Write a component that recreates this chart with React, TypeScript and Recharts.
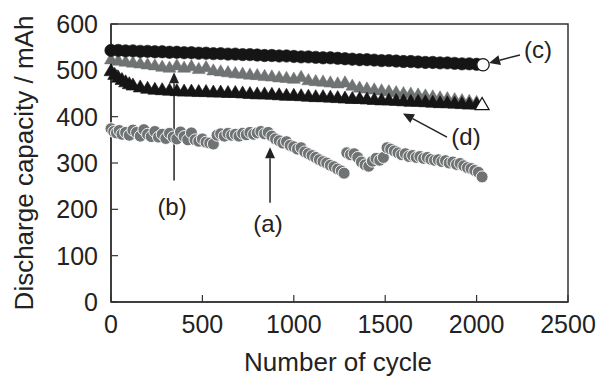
import {
  ScatterChart,
  Scatter,
  XAxis,
  YAxis,
  ReferenceArea,
  ReferenceLine,
  ReferenceDot,
} from "recharts"

const FONT = "'Liberation Sans', Arial, Helvetica, sans-serif"
const INK = "#222"
const GRAY = "#6f7373"
const BLACK = "#151515"

const xTicks = [0, 500, 1000, 1500, 2000, 2500]
const yTicks = [0, 100, 200, 300, 400, 500, 600]

// (a) grey open circles
const cyclesA = [
  0, 15, 30, 45, 60, 80, 100, 120, 140, 160, 180, 200, 220, 240, 260, 280, 300, 320, 340, 360,
  380, 400, 420, 440, 460, 480, 500, 520, 540, 560, 580, 600, 620, 640, 660, 680, 700, 720, 740, 760,
  780, 800, 820, 840, 860, 880, 900, 920, 940, 960, 980, 1000, 1020, 1040, 1060, 1080, 1100, 1120, 1140, 1160,
  1180, 1200, 1220, 1240, 1260, 1275, 1290, 1310, 1330, 1350, 1370, 1390, 1410, 1430, 1450, 1470, 1490, 1510, 1530, 1550,
  1570, 1590, 1610, 1630, 1650, 1670, 1690, 1710, 1730, 1750, 1770, 1790, 1810, 1830, 1850, 1870, 1890, 1910, 1930, 1950,
  1970, 1990, 2010, 2030,
]
const capacityA = [
  374, 368, 365, 370, 362, 366, 360, 371, 366, 358, 372, 362, 357, 368, 356, 362, 353, 364, 356, 352,
  367, 357, 350, 365, 350, 347, 352, 345, 343, 341, 360, 363, 358, 364, 360, 362, 358, 364, 361, 366,
  362, 365, 368, 363, 366, 358, 352, 348, 343, 346, 338, 335, 330, 333, 324, 320, 316, 312, 307, 303,
  300, 295, 292, 287, 283, 278, 322, 318, 320, 312, 302, 296, 293, 304, 310, 306, 312, 333, 330, 326,
  322, 318, 320, 314, 316, 312, 314, 310, 312, 308, 306, 307, 303, 305, 300, 302, 297, 299, 294, 290,
  288, 284, 280, 270,
]

// shared cycle grid for (b) and (c)
const cycles = [
  0, 40, 80, 120, 160, 200, 240, 280, 320, 360, 400, 440, 480, 520, 560, 600, 640, 680, 720, 760,
  800, 840, 880, 920, 960, 1000, 1040, 1080, 1120, 1160, 1200, 1240, 1280, 1320, 1360, 1400, 1440, 1480, 1520, 1560,
  1600, 1640, 1680, 1720, 1760, 1800, 1840, 1880, 1920, 1960, 2000,
]

// (b) grey triangles
const capacityB = [
  522, 519, 517, 515, 513, 511, 509, 506, 504, 509, 504, 507, 501, 505, 498, 496, 494, 492, 491, 489,
  488, 486, 485, 483, 482, 480, 484, 477, 475, 474, 472, 470, 472, 465, 461, 459, 457, 455, 453, 451,
  449, 448, 446, 444, 442, 440, 438, 436, 434, 432, 430,
]

// (c) black circles, last point open
const cyclesC = [...cycles, 2035]
const capacityC = [
  543, 543, 542, 542, 541, 541, 540, 540, 539, 539, 538, 538, 537, 537, 536, 536, 535, 535, 534, 534,
  533, 532, 532, 531, 531, 530, 529, 529, 528, 527, 527, 526, 525, 524, 523, 523, 522, 521, 521, 520,
  519, 519, 518, 517, 517, 516, 516, 515, 514, 514, 513, 512,
]

// (d) black triangles, last point open
const cyclesD = [
  0, 20, 40, 60, 80, 100, 120, 160, 200, 240, 280, 320, 360, 400, 440, 480, 520, 560, 600, 640,
  680, 720, 760, 800, 840, 880, 920, 960, 1000, 1040, 1080, 1120, 1160, 1200, 1240, 1280, 1320, 1360, 1400, 1440,
  1480, 1520, 1560, 1600, 1640, 1680, 1720, 1760, 1800, 1840, 1880, 1920, 1960, 2000, 2030,
]
const capacityD = [
  497, 489, 483, 478, 473, 469, 466, 462, 459, 457, 456, 455, 454, 453, 453, 452, 452, 451, 451, 450,
  450, 449, 448, 447, 447, 446, 445, 444, 444, 443, 442, 441, 441, 440, 439, 438, 437, 437, 436, 435,
  434, 434, 433, 432, 431, 431, 430, 429, 428, 428, 427, 426, 425, 425, 424,
]

// annotations: label position + arrow [tail, tip] in data units
const labels = [
  { text: "(a)", at: [859, 170], arrow: [[870, 214], [870, 334]] },
  { text: "(b)", at: [334, 207], arrow: [[345, 262], [345, 496]] },
  { text: "(c)", at: [2336, 544], arrow: [[2237, 533], [2068, 516]] },
  { text: "(d)", at: [1942, 358], arrow: [[1838, 356], [1597, 407]] },
]

const toPoints = (xs: number[], ys: number[]) =>
  xs.map((x, i) => ({ x, y: ys[i], last: i === xs.length - 1 }))

const tri = (cx: number, cy: number, s: number) =>
  `${cx},${cy - s} ${cx + s * 0.87},${cy + s * 0.5} ${cx - s * 0.87},${cy + s * 0.5}`

function GrayCircle(p: any) {
  return <circle cx={p.cx} cy={p.cy} r={6} fill={GRAY} stroke="#fff" strokeWidth={0.9} />
}

function GrayTriangle(p: any) {
  return <polygon points={tri(p.cx, p.cy, 7.5)} fill={GRAY} stroke={GRAY} strokeWidth={0.5} />
}

function BlackCircle(p: any) {
  const open = p.payload?.last
  return (
    <circle
      cx={p.cx}
      cy={p.cy}
      r={6.2}
      fill={open ? "#fff" : BLACK}
      stroke={BLACK}
      strokeWidth={open ? 1.3 : 0.6}
    />
  )
}

function BlackTriangle(p: any) {
  const open = p.payload?.last
  return (
    <polygon
      points={tri(p.cx, p.cy, 8)}
      fill={open ? "#fff" : BLACK}
      stroke={BLACK}
      strokeWidth={open ? 1.3 : 0.6}
    />
  )
}

function Arrow(p: any) {
  const { x1, y1, x2, y2 } = p
  const ang = Math.atan2(y2 - y1, x2 - x1)
  const len = 11
  const half = 5
  const bx = x2 - len * Math.cos(ang)
  const by = y2 - len * Math.sin(ang)
  const nx = -Math.sin(ang) * half
  const ny = Math.cos(ang) * half
  return (
    <g>
      <line x1={x1} y1={y1} x2={bx} y2={by} stroke={INK} strokeWidth={1.5} />
      <polygon points={`${x2},${y2} ${bx + nx},${by + ny} ${bx - nx},${by - ny}`} fill={INK} />
    </g>
  )
}

const tickStyle = { fontSize: 25, fill: INK, fontFamily: FONT }

export default function App() {
  return (
    <div style={{ position: "absolute", left: 0, top: 0 }}>
      <ScatterChart width={599} height={377} margin={{ top: 24, right: 31, bottom: 0, left: 0 }}>
        <XAxis
          type="number"
          dataKey="x"
          domain={[0, 2500]}
          ticks={xTicks}
          height={75}
          tick={tickStyle}
          tickSize={-7}
          tickMargin={20}
          axisLine={{ stroke: "#333", strokeWidth: 1.5 }}
          tickLine={{ stroke: "#333", strokeWidth: 1.2 }}
          label={{
            content: () => (
              <text x={338} y={371} textAnchor="middle" fontSize={26} fill={INK} fontFamily={FONT}>
                Number of cycle
              </text>
            ),
          }}
        />
        <YAxis
          type="number"
          dataKey="y"
          domain={[0, 600]}
          ticks={yTicks}
          width={111}
          tick={tickStyle}
          tickSize={-7}
          tickMargin={20}
          axisLine={{ stroke: "#333", strokeWidth: 1.5 }}
          tickLine={{ stroke: "#333", strokeWidth: 1.2 }}
          label={{
            content: () => (
              <text
                x={33}
                y={163}
                transform="rotate(-90 33 163)"
                textAnchor="middle"
                fontSize={26}
                fill={INK}
                fontFamily={FONT}
              >
                Discharge capacity / mAh
              </text>
            ),
          }}
        />
        <ReferenceArea x1={0} x2={2500} y1={0} y2={600} fill="none" stroke="#333" strokeWidth={1.5} />
        <Scatter data={toPoints(cyclesA, capacityA)} shape={GrayCircle} isAnimationActive={false} />
        <Scatter data={toPoints(cycles, capacityB)} shape={GrayTriangle} isAnimationActive={false} />
        <Scatter data={toPoints(cyclesD, capacityD)} shape={BlackTriangle} isAnimationActive={false} />
        <Scatter data={toPoints(cyclesC, capacityC)} shape={BlackCircle} isAnimationActive={false} />
        {labels.map((l) => (
          <ReferenceLine
            key={l.text + "-arrow"}
            segment={[
              { x: l.arrow[0][0], y: l.arrow[0][1] },
              { x: l.arrow[1][0], y: l.arrow[1][1] },
            ]}
            shape={Arrow}
          />
        ))}
        {labels.map((l) => (
          <ReferenceDot
            key={l.text}
            x={l.at[0]}
            y={l.at[1]}
            r={0}
            fill="none"
            stroke="none"
            label={{ value: l.text, position: "center", fontSize: 24, fill: INK, fontFamily: FONT }}
          />
        ))}
      </ScatterChart>
    </div>
  )
}
